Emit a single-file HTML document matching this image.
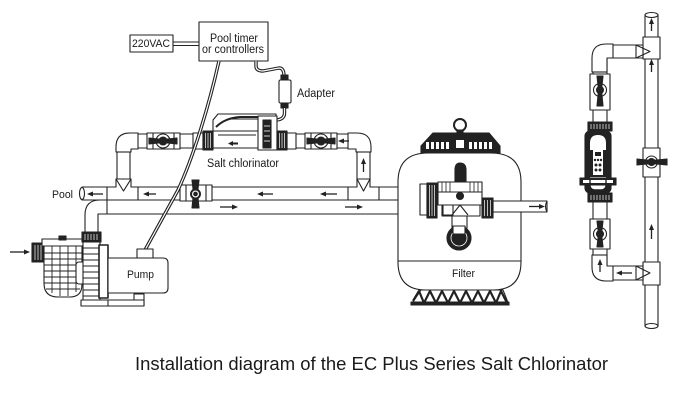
<!DOCTYPE html>
<html><head><meta charset="utf-8"><style>
html,body{margin:0;padding:0;background:#fff;}
svg{display:block;}
text{font-family:"Liberation Sans",Arial,sans-serif;fill:#1a1a1a;stroke:none;}
</style></head><body>
<svg width="682" height="401" viewBox="0 0 682 401" xmlns="http://www.w3.org/2000/svg">
<g fill="#fff" stroke="#222" stroke-width="1.1" stroke-linejoin="round">

<!-- ===== Controller & adapter ===== -->
<rect x="130" y="35" width="43" height="17"/>
<line x1="173" y1="42" x2="199" y2="42"/>
<line x1="173" y1="45.5" x2="199" y2="45.5"/>
<rect x="199" y="22" width="69" height="39"/>
<!-- cable to adapter -->
<path d="M256,61 V66 Q256,71 263,71 L279,68 Q284,68 284,76" fill="none" stroke="#222" stroke-width="3.4"/>
<path d="M256,61 V66 Q256,71 263,71 L279,68 Q284,68 284,76" fill="none" stroke="#fff" stroke-width="1.2"/>
<rect x="281" y="75" width="7" height="5" fill="#222"/>
<rect x="279" y="80" width="12" height="23" rx="1.5"/>
<rect x="281" y="103" width="7" height="5" fill="#222"/>
<path d="M284.5,108 V113 Q284.5,119 277,120 L272,121" fill="none" stroke="#222" stroke-width="3.4"/>
<path d="M284.5,108 V113 Q284.5,119 277,120 L272,121" fill="none" stroke="#fff" stroke-width="1.2"/>

<!-- ===== Base pipes ===== -->
<rect x="82" y="187" width="345" height="13"/>
<rect x="100" y="200" width="327" height="14"/>
<!-- pool end -->
<ellipse cx="82" cy="193.5" rx="2.5" ry="6"/>
<!-- feed elbow from pump -->
<path d="M85,233 V215 Q85,200 100,200 H107 V214 H98 V233 Z"/>
<!-- top bypass pipe -->
<rect x="130" y="134" width="228" height="14"/>
<rect x="117" y="148" width="13" height="32"/>
<rect x="357" y="148" width="13" height="32"/>
<!-- left elbow -->
<path d="M116,152 V147 Q116,133 130,133 H138 V149 H131 V152 Z"/>
<line x1="116" y1="152" x2="131" y2="152"/>
<!-- right elbow -->
<path d="M371,152 V147 Q371,133 357,133 H348 V149 H356 V152 Z"/>
<line x1="356" y1="152" x2="371" y2="152"/>
<!-- left tee -->
<path d="M107,187 H116 V179 H131 V187 H138 V200 H107 Z"/>
<polyline points="116,179 123.5,191 131,179" fill="none"/>
<!-- right tee -->
<path d="M348,187 H357 V179 H370 V187 H379 V200 H348 Z"/>
<polyline points="357,179 363.5,191 370,179" fill="none"/>

<!-- bypass valve on return pipe -->
<rect x="180" y="185" width="32" height="16"/>
<line x1="186" y1="185" x2="186" y2="201"/>
<line x1="206" y1="185" x2="206" y2="201"/>
<polygon points="192,180 199,180 197.5,193 199,208 192,208 193.5,193" fill="#222"/>
<circle cx="195.5" cy="194" r="4.5" fill="#fff" stroke-width="2"/>
<circle cx="195.5" cy="194" r="1.8" fill="#222"/>

<!-- left top valve -->
<rect x="147" y="133" width="33" height="16"/>
<line x1="153" y1="133" x2="153" y2="149"/>
<line x1="174" y1="133" x2="174" y2="149"/>
<circle cx="163" cy="141" r="7" fill="#fff"/>
<polygon points="149,138 163,139.5 177,138 177,144 163,142.5 149,144" fill="#222"/>
<circle cx="163" cy="141" r="4" fill="#222"/>
<!-- right top valve -->
<rect x="305" y="133" width="32" height="16"/>
<line x1="311" y1="133" x2="311" y2="149"/>
<line x1="331" y1="133" x2="331" y2="149"/>
<circle cx="321" cy="141" r="7" fill="#fff"/>
<polygon points="307,138 321,139.5 335,138 335,144 321,142.5 307,144" fill="#222"/>
<circle cx="321" cy="141" r="4" fill="#222"/>

<!-- chlorinator (main) -->
<rect x="193" y="133" width="10" height="16"/>
<rect x="287" y="133" width="9" height="16"/>
<path d="M213,131 V120 L218,114 H276 V131" />
<path d="M216,127 Q225,118 240,117 H258" fill="none" stroke-width="2"/>
<line x1="230" y1="119" x2="258" y2="119"/>
<path d="M213,131 H258 Q264,131 264,139.5 Q264,148 258,148 H213 Z"/>
<line x1="218" y1="135" x2="256" y2="135"/>
<rect x="258" y="116" width="19" height="34"/>
<rect x="263" y="120" width="8" height="28" fill="#222"/>
<line x1="264" y1="126" x2="270" y2="126" stroke="#fff" stroke-width="0.8"/>
<line x1="264" y1="131" x2="270" y2="131" stroke="#fff" stroke-width="0.8"/>
<line x1="264" y1="136" x2="270" y2="136" stroke="#fff" stroke-width="0.8"/>
<line x1="264" y1="141" x2="270" y2="141" stroke="#fff" stroke-width="0.8"/>
<rect x="203" y="131" width="10" height="19" fill="#222"/>
<path d="M205.5,133 V148 M208,133 V148 M210.5,133 V148" stroke="#fff" stroke-width="0.7"/>
<rect x="277" y="131" width="10" height="19" fill="#222"/>
<path d="M279.5,133 V148 M282,133 V148 M284.5,133 V148" stroke="#fff" stroke-width="0.7"/>
<path d="M232,143.5 H238" stroke="#222" stroke-width="2"/>
<path d="M228,143.5 l5,-2.5 v5 z" fill="#222" stroke="none"/>

<!-- power cable from timer to pump -->
<path d="M219,61 C208,110 192,160 178,190 L145,250" fill="none" stroke="#222" stroke-width="3.4"/>
<path d="M219,61 C208,110 192,160 178,190 L145,250" fill="none" stroke="#fff" stroke-width="1.2"/>

<!-- ===== Pump ===== -->
<rect x="32" y="243" width="11" height="19" fill="#222"/>
<path d="M35,245 V260 M38,245 V260 M41,245 V260" stroke="#fff" stroke-width="0.7"/>
<path d="M44,246 V283 Q44,297 58,297 H70 Q82,297 82,284 V246 Z"/>
<path d="M44,253 H82 M44,259 H82 M44,265 H82 M44,271 H82 M44,277 H82 M44,283 H82 M46,289 H80" fill="none" stroke-width="0.9"/>
<path d="M52,246 V293 M60,246 V296 M68,246 V296 M76,246 V292" fill="none" stroke-width="0.9"/>
<rect x="42" y="239" width="41" height="7"/>
<rect x="59" y="236" width="7" height="4" fill="#222"/>
<rect x="76" y="262" width="10" height="22" rx="3"/>
<rect x="83" y="242" width="17" height="62"/>
<path d="M83,248 H100 M83,254 H100 M83,260 H100 M83,266 H100 M83,272 H100 M83,278 H100 M83,284 H100 M83,290 H100 M83,296 H100" fill="none" stroke-width="0.9"/>
<rect x="82" y="232" width="19" height="10" fill="#222"/>
<path d="M85,234 V240 M88,234 V240 M91,234 V240 M94,234 V240 M97,234 V240" stroke="#fff" stroke-width="0.7"/>
<rect x="99" y="245" width="9" height="53" stroke-width="1.6"/>
<path d="M108,258 H163 Q168,258 168,263 V288 Q168,293 163,293 H108 Z"/>
<rect x="137" y="249" width="16" height="9"/>
<path d="M134,306 V294 H144 V306" />
<rect x="81" y="300" width="63" height="6"/>
<line x1="108" y1="300" x2="108" y2="306"/>

<!-- ===== Filter ===== -->
<path d="M398,182 Q398,153 428,153 H491 Q521,153 521,182 V262 Q521,290 493,290 H426 Q398,290 398,262 Z"/>
<line x1="398" y1="261" x2="521" y2="261"/>
<polygon points="421,290 503,290 509,305 411,305"/>
<path d="M413,301 L419,291 L424,303 L430,291 L436,303 L442,291 L448,303 L454,291 L460,303 L466,291 L472,303 L478,291 L484,303 L490,291 L496,303 L501,291 L507,303" fill="none" stroke="#222" stroke-width="2.2"/>
<rect x="411" y="302" width="98" height="3" fill="#222"/>
<!-- lid -->
<path d="M433,133 H489 L500,146 V153 H421 V146 Z" fill="#222"/>
<g fill="#fff" stroke="none">
<rect x="426" y="142" width="3" height="7"/><rect x="431" y="142" width="3" height="7"/><rect x="436" y="142" width="3" height="7"/><rect x="441" y="142" width="3" height="7"/><rect x="446" y="142" width="3" height="7"/>
<rect x="456" y="140" width="8" height="8"/>
<rect x="469" y="142" width="3" height="7"/><rect x="474" y="142" width="3" height="7"/><rect x="479" y="142" width="3" height="7"/><rect x="484" y="142" width="3" height="7"/><rect x="489" y="142" width="3" height="7"/>
</g>
<circle cx="460" cy="125" r="6" fill="none" stroke-width="2"/>
<rect x="457" y="130" width="6" height="4" fill="#222"/>
<!-- coupling + union into filter -->
<rect x="420" y="184" width="7" height="31"/>
<rect x="427" y="183" width="10" height="35" fill="#222"/>
<path d="M429.5,185 V216 M432,185 V216 M434.5,185 V216" stroke="#fff" stroke-width="0.7"/>
<!-- multiport valve -->
<path d="M455,182 V170 Q455,163 460,163 Q466,163 466,170 V182 Z" fill="#222"/>
<rect x="438" y="182" width="44" height="10"/>
<path d="M442,182 V192 M446,182 V192 M450,182 V192 M470,182 V192 M474,182 V192 M478,182 V192" fill="none" stroke-width="0.8"/>
<rect x="438" y="192" width="44" height="13"/>
<circle cx="460" cy="196" r="3.5" fill="#222"/>
<rect x="442" y="205" width="38" height="11"/>
<rect x="443" y="205" width="10" height="10"/>
<polyline points="452,215 460,205 468,215" fill="none"/>
<!-- right union + outlet -->
<rect x="493" y="201" width="54" height="11"/>
<path d="M547,201 Q544,206.5 547,212" fill="none"/>
<rect x="482" y="198" width="11" height="20" fill="#222"/>
<path d="M484.5,200 V216 M487.5,200 V216 M490.5,200 V216" stroke="#fff" stroke-width="0.7"/>
<!-- drain -->
<rect x="452" y="216" width="15" height="12"/>
<circle cx="459" cy="238" r="12" fill="#222"/>
<circle cx="459" cy="238" r="8" fill="none" stroke="#fff" stroke-width="0.8"/>
<rect x="453" y="226" width="12" height="8" fill="#fff"/>

<!-- ===== Right-side vertical diagram ===== -->
<rect x="645" y="15" width="13" height="311"/>
<ellipse cx="651.5" cy="15" rx="6.5" ry="2.5"/>
<ellipse cx="651.5" cy="326" rx="6.5" ry="2.5"/>
<!-- top branch -->
<rect x="607" y="45" width="30" height="13"/>
<rect x="593" y="58" width="14" height="207"/>
<path d="M592,72 V58 Q592,44 606,44 H613 V58 H607 V72 Z"/>
<line x1="592" y1="72" x2="607" y2="72"/>
<rect x="643" y="37" width="17" height="22"/>
<rect x="636" y="45" width="7" height="13"/>
<polyline points="636,45 650,51.5 636,58" fill="none"/>
<!-- bottom branch -->
<rect x="607" y="266" width="30" height="14"/>
<path d="M592,255 V267 Q592,281 606,281 H613 V266 H607 V255 Z"/>
<line x1="592" y1="255" x2="607" y2="255"/>
<rect x="643" y="262" width="17" height="23"/>
<rect x="636" y="266" width="7" height="14"/>
<polyline points="636,266 650,273 636,280" fill="none"/>
<!-- upper valve -->
<rect x="590" y="74" width="20" height="36"/>
<circle cx="600" cy="90" r="6.5" fill="#fff"/>
<polygon points="597,76 603,76 601.5,90 603,106 597,106 598.5,90" fill="#222"/>
<circle cx="600" cy="90" r="3.5" fill="#222"/>
<!-- lower valve -->
<rect x="590" y="219" width="20" height="30"/>
<circle cx="600" cy="234" r="6.5" fill="#fff"/>
<polygon points="597,221 603,221 601.5,234 603,247 597,247 598.5,234" fill="#222"/>
<circle cx="600" cy="234" r="3.5" fill="#222"/>
<!-- middle valve on main pipe -->
<rect x="643" y="148" width="17" height="29"/>
<circle cx="651.5" cy="162" r="6" fill="#fff"/>
<polygon points="637,159 651.5,160.5 667,159 667,165 651.5,163.5 637,165" fill="#222"/>
<circle cx="651.5" cy="162" r="3.5" fill="#222"/>
<!-- unions -->
<rect x="588" y="122" width="24" height="9" fill="#222"/>
<path d="M591,124 V129 M594,124 V129 M597,124 V129 M600,124 V129 M603,124 V129 M606,124 V129 M609,124 V129" stroke="#fff" stroke-width="0.7"/>
<rect x="588" y="193" width="24" height="9" fill="#222"/>
<path d="M591,195 V200 M594,195 V200 M597,195 V200 M600,195 V200 M603,195 V200 M606,195 V200 M609,195 V200" stroke="#fff" stroke-width="0.7"/>
<!-- chlorinator (vertical) -->
<rect x="585" y="131" width="26" height="62" rx="5" fill="#222"/>
<path d="M590,150 V143 Q590,135 598,135 Q606,135 606,143 V150 Z" fill="#fff" stroke="none"/>
<rect x="593" y="150" width="10" height="25" fill="#fff" stroke="none"/>
<rect x="595" y="152" width="6" height="4" fill="#222" stroke="none"/>
<g fill="#222" stroke="none">
<circle cx="595" cy="160" r="1.2"/><circle cx="598" cy="160" r="1.2"/><circle cx="601" cy="160" r="1.2"/>
<circle cx="596" cy="165" r="1.5"/><circle cx="600" cy="165" r="1.5"/>
<circle cx="596" cy="170" r="1.5"/><circle cx="600" cy="170" r="1.5"/>
</g>
<path d="M590,177 V183 Q590,190 598,190 Q606,190 606,183 V177 Z" fill="#fff" stroke="none"/>
<rect x="580" y="178" width="36" height="7" fill="#222"/>
<rect x="583" y="180" width="30" height="3" fill="#fff" stroke="none"/>
<path d="M590,180 V188 Q590,190 598,190 Q606,190 606,188 V180" fill="none" stroke="#222" stroke-width="1.4"/>
</g>

<!-- ===== Arrows ===== -->
<g stroke="#222" stroke-width="1.3" fill="#222">
<!-- left-pointing (return) -->
<line x1="92" y1="194" x2="103" y2="194"/><path d="M87,194 l6,-2.5 v5 z" stroke="none"/>
<line x1="148" y1="194" x2="156" y2="194"/><path d="M143,194 l6,-2.5 v5 z" stroke="none"/>
<line x1="262" y1="194" x2="273" y2="194"/><path d="M257,194 l6,-2.5 v5 z" stroke="none"/>
<line x1="325" y1="194" x2="337" y2="194"/><path d="M320,194 l6,-2.5 v5 z" stroke="none"/>
<line x1="343" y1="141" x2="349" y2="141"/><path d="M338,141 l6,-2.5 v5 z" stroke="none"/>
<!-- right-pointing (feed) -->
<line x1="220" y1="207" x2="232" y2="207"/><path d="M238,207 l-6,-2.5 v5 z" stroke="none"/>
<line x1="345" y1="207" x2="357" y2="207"/><path d="M363,207 l-6,-2.5 v5 z" stroke="none"/>
<line x1="529" y1="206.5" x2="539" y2="206.5"/><path d="M545,206.5 l-6,-2.5 v5 z" stroke="none"/>
<line x1="10" y1="252" x2="24" y2="252"/><path d="M30,252 l-6,-2.5 v5 z" stroke="none"/>
<!-- up arrows -->
<line x1="363.5" y1="164" x2="363.5" y2="172"/><path d="M363.5,158 l-2.5,6 h5 z" stroke="none"/>
<line x1="651.5" y1="24" x2="651.5" y2="31"/><path d="M651.5,18 l-2.5,6 h5 z" stroke="none"/>
<line x1="651.5" y1="65" x2="651.5" y2="72"/><path d="M651.5,59 l-2.5,6 h5 z" stroke="none"/>
<line x1="651.5" y1="230" x2="651.5" y2="239"/><path d="M651.5,224 l-2.5,6 h5 z" stroke="none"/>
<line x1="600" y1="265" x2="600" y2="272"/><path d="M600,259 l-2.5,6 h5 z" stroke="none"/>
<!-- bottom branch left arrow -->
<line x1="622" y1="273" x2="632" y2="273"/><path d="M616,273 l6,-2.5 v5 z" stroke="none"/>
</g>

<!-- ===== Labels ===== -->
<text x="132" y="47" font-size="11" textLength="38" lengthAdjust="spacingAndGlyphs">220VAC</text>
<text x="210" y="42" font-size="11.5" textLength="48" lengthAdjust="spacingAndGlyphs">Pool timer</text>
<text x="202" y="53" font-size="11.5" textLength="62" lengthAdjust="spacingAndGlyphs">or controllers</text>
<text x="297" y="97" font-size="11.5" textLength="38" lengthAdjust="spacingAndGlyphs">Adapter</text>
<text x="207" y="167" font-size="11.5" textLength="72" lengthAdjust="spacingAndGlyphs">Salt chlorinator</text>
<text x="52" y="198" font-size="11" textLength="21" lengthAdjust="spacingAndGlyphs">Pool</text>
<text x="127" y="278" font-size="11" textLength="27" lengthAdjust="spacingAndGlyphs">Pump</text>
<text x="452" y="277" font-size="11" textLength="23" lengthAdjust="spacingAndGlyphs">Filter</text>
<text x="135" y="370" font-size="18" textLength="473" lengthAdjust="spacingAndGlyphs">Installation diagram of the EC Plus Series Salt Chlorinator</text>
</svg>
</body></html>
